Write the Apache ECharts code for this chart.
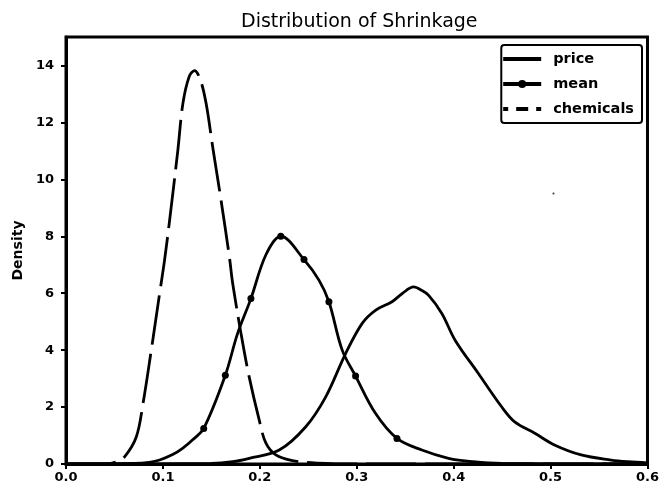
<!DOCTYPE html>
<html>
<head>
<meta charset="utf-8">
<script src="https://cdn.jsdelivr.net/npm/echarts@6/dist/echarts.min.js"></script>
<style>
  html, body { margin: 0; padding: 0; background: #fff; }
  #main { width: 662px; height: 488px; }
</style>
</head>
<body>
<div id="main"></div>
<script>
  // density curves
  var priceX = [0, 0.15, 0.172, 0.189, 0.22, 0.2474, 0.268, 0.2885, 0.3056, 0.3193, 0.3364, 0.347, 0.3587, 0.367, 0.374, 0.3878, 0.4015, 0.4255, 0.4495, 0.463, 0.4837, 0.504, 0.5316, 0.5625, 0.58, 0.6];
  var priceY = [0, 0.02, 0.08, 0.2, 0.49, 1.31, 2.36, 3.88, 4.94, 5.4, 5.7, 5.99, 6.22, 6.1, 5.93, 5.29, 4.35, 3.18, 2.01, 1.48, 1.08, 0.67, 0.32, 0.14, 0.08, 0.04];

  var meanX = [0, 0.07, 0.086, 0.0966, 0.11, 0.1206, 0.131, 0.1421, 0.1644, 0.177, 0.1908, 0.2063, 0.2216, 0.2456, 0.261, 0.2713, 0.285, 0.2988, 0.3193, 0.3415, 0.3672, 0.3947, 0.42, 0.45, 0.6];
  var meanY = [0, 0.02, 0.06, 0.14, 0.33, 0.56, 0.86, 1.25, 3.12, 4.58, 5.81, 7.35, 8.0, 7.18, 6.46, 5.7, 4.0, 3.09, 1.78, 0.9, 0.49, 0.2, 0.08, 0.02, 0];
  var meanMarks = [7, 8, 10, 12, 13, 15, 17, 19];

  var chemX = [0, 0.04, 0.052, 0.0606, 0.0726, 0.0795, 0.088, 0.0966, 0.1017, 0.1069, 0.1154, 0.1206, 0.127, 0.1326, 0.1386, 0.1446, 0.1514, 0.160, 0.1686, 0.172, 0.1806, 0.189, 0.1994, 0.2063, 0.2165, 0.2336, 0.26, 0.3, 0.6];
  var chemY = [0, 0, 0.08, 0.26, 0.96, 2.13, 4.0, 5.99, 7.16, 8.56, 11.02, 12.66, 13.6, 13.82, 13.5, 12.66, 11.13, 9.26, 7.27, 6.34, 4.58, 3.06, 1.54, 0.73, 0.32, 0.12, 0.03, 0, 0];

  var strayX = [0.503];
  var strayY = [9.5];

  function pairs(xs, ys) {
    return xs.map(function (x, i) { return [x, ys[i]]; });
  }

  var meanData = meanX.map(function (x, i) {
    return { value: [x, meanY[i]], symbol: meanMarks.indexOf(i) >= 0 ? 'circle' : 'none' };
  });

  var myChart = echarts.init(document.getElementById('main'));
  var font = 'DejaVu Sans';
  var option = {
    animation: false,
    title: {
      text: 'Distribution of Shrinkage',
      left: 236,
      top: 8,
      textStyle: { fontFamily: font, fontSize: 19, fontWeight: 'normal', color: '#000' }
    },
    legend: {
      data: [
        { name: 'price', itemStyle: { opacity: 0 } },
        { name: 'mean' },
        { name: 'chemicals', itemStyle: { opacity: 0 }, lineStyle: { type: [12, 8], dashOffset: 7 } }
      ],
      orient: 'vertical',
      right: 20,
      top: 45,
      padding: [6, 8, 6, 0],
      itemGap: 9,
      itemWidth: 38,
      itemHeight: 10,
      lineStyle: { width: 3.8 },
      borderColor: '#000',
      borderWidth: 2,
      borderRadius: 3,
      textStyle: { fontFamily: font, fontSize: 14.5, lineHeight: 16, fontWeight: 'bold', color: '#000', padding: [0, 0, 0, 7] }
    },
    grid: {
      left: 66, right: 13, top: 37, bottom: 24,
      show: true, borderColor: '#000', borderWidth: 3
    },
    xAxis: {
      type: 'value',
      min: 0, max: 0.6, interval: 0.1,
      splitLine: { show: false },
      axisLine: { lineStyle: { color: '#000', width: 3 } },
      axisTick: { length: 5, lineStyle: { color: '#000', width: 2 } },
      axisLabel: {
        margin: 7, color: '#000', fontFamily: font, fontSize: 13, fontWeight: 'bold',
        formatter: function (v) { return v.toFixed(1); }
      }
    },
    yAxis: {
      type: 'value',
      min: 0, max: 15, interval: 2,
      name: 'Density',
      nameLocation: 'middle',
      nameGap: 41,
      nameTextStyle: { fontFamily: font, fontSize: 14, fontWeight: 'bold', color: '#000' },
      splitLine: { show: false },
      axisLine: { lineStyle: { color: '#000', width: 3 } },
      axisTick: { length: 5, lineStyle: { color: '#000', width: 2 } },
      axisLabel: {
        margin: 12, color: '#000', fontFamily: font, fontSize: 13, fontWeight: 'bold',
        showMaxLabel: false
      }
    },
    series: [
      {
        name: 'price', type: 'line', data: pairs(priceX, priceY),
        smooth: 0.35, symbol: 'none',
        lineStyle: { color: '#000', width: 2.8 }, itemStyle: { color: '#000' }
      },
      {
        name: 'mean', type: 'line', data: meanData,
        smooth: 0.35, symbol: 'circle', symbolSize: 7, showSymbol: true,
        lineStyle: { color: '#000', width: 2.8 }, itemStyle: { color: '#000' }
      },
      {
        name: 'chemicals', type: 'line', data: pairs(chemX, chemY),
        smooth: 0.35, symbol: 'none',
        lineStyle: { color: '#000', width: 2.8, type: [50, 9] }, itemStyle: { color: '#000' }
      },
      {
        name: 'stray', type: 'scatter', data: pairs(strayX, strayY),
        symbolSize: 2, itemStyle: { color: '#000' }, silent: true
      }
    ]
  };
  myChart.setOption(option);
</script>
</body>
</html>
